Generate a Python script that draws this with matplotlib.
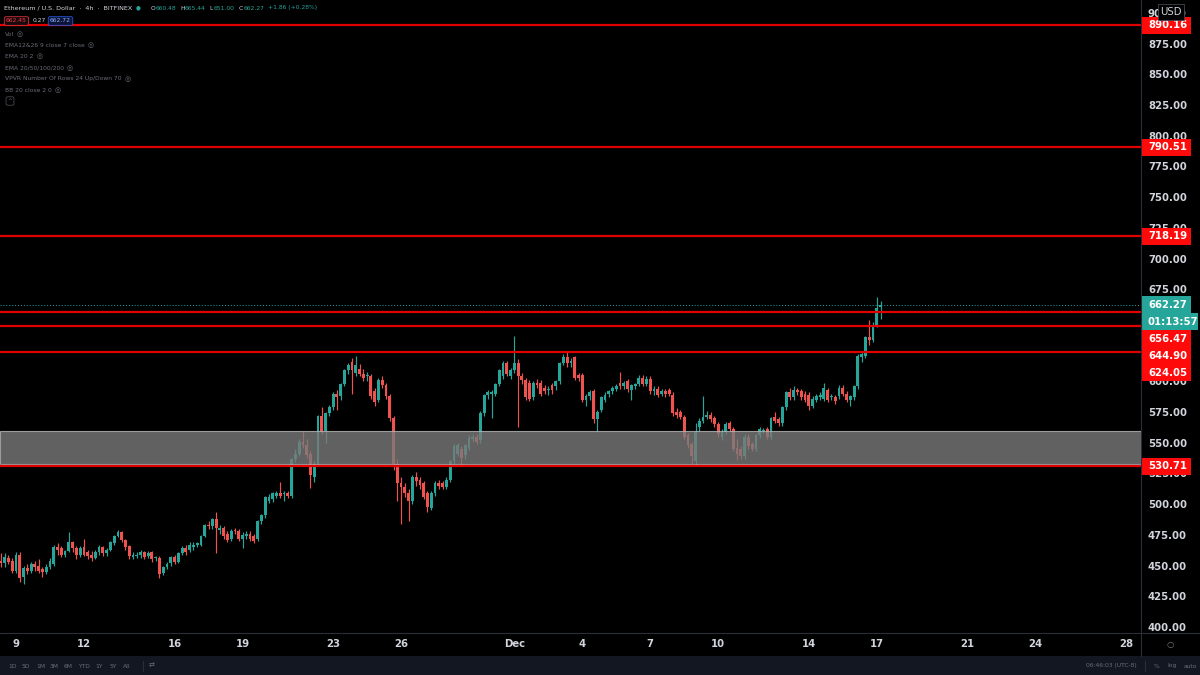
import numpy as np
import pandas as pd
import matplotlib
matplotlib.use("Agg")
import matplotlib.pyplot as plt
import matplotlib.dates as mdates
from matplotlib.patches import Rectangle
from matplotlib.lines import Line2D

# ----------------------------
# 0. Data: ETH/USD 4h candles (Bitfinex)
# ----------------------------
start_time = "2020-11-08 08:00"

opens = [454, 452, 456, 454, 446, 459, 441, 448, 446, 451, 450, 447, 445, 449, 451, 465, 464, 459, 462, 469,
         464, 459, 465, 461, 459, 456, 461, 465, 460, 463, 468, 474, 477, 471, 466, 457, 458, 459, 461, 458,
         461, 456, 456, 444, 449, 452, 457, 453, 460, 464,
         463, 465, 467, 467, 474, 483, 482, 488, 479, 481, 476, 472, 479, 478, 472, 474, 476, 474, 472, 486,
         491, 503, 504, 507, 509, 508, 509, 507, 537, 541, 551, 548, 541, 522, 533, 572, 560, 574, 579, 590,
         588, 598, 609, 616, 607, 610, 606, 604,
         604, 592, 585, 601, 597, 588, 570, 533, 517, 514, 509, 503, 522, 520, 517, 509, 497, 509, 517, 517,
         514, 520, 535, 541, 545, 540, 546, 553, 555, 552, 574, 589, 590, 590, 598, 604, 615, 604, 609, 615,
         604, 601, 599, 587, 599, 599, 595,
         593, 597, 596, 600, 615, 620, 615, 620, 605, 605, 585, 588, 592, 569, 577, 585, 590, 592, 594, 599,
         596, 600, 593, 596, 598, 603, 598, 602, 592, 594, 590, 592, 593, 589, 575, 575, 571, 556, 549, 535,
         563, 568, 571, 573, 570, 565, 555, 559,
         566, 561, 546, 545, 539, 555, 549, 545, 556, 560, 561, 555, 571, 569, 566, 579, 591, 587, 593, 592,
         590, 589, 580, 585, 587, 586, 593, 587, 587, 588, 595, 590, 585, 587, 596, 620, 621, 636, 634, 646,
         660.48]
highs = [460, 460, 459, 456, 461, 461, 450, 451, 453, 454, 455, 449, 451, 456, 467, 468, 466, 463, 477, 470,
         466, 466, 472, 463, 462, 463, 467, 466, 464, 470, 475, 479, 478, 472, 467, 461, 461, 463, 462, 462,
         462, 458, 458, 450, 453, 458, 459, 461, 466, 467,
         469, 469, 469, 475, 484, 486, 489, 494, 483, 482, 478, 480, 481, 480, 477, 478, 478, 476, 487, 492,
         507, 508, 510, 511, 518, 511, 511, 538, 545, 553, 560, 553, 543, 535, 573, 579, 575, 581, 591, 593,
         599, 610, 615, 619, 621, 614, 610, 608,
         606, 595, 603, 604, 599, 590, 572, 537, 522, 517, 512, 524, 526, 522, 519, 511, 511, 519, 520, 519,
         522, 536, 549, 550, 547, 549, 556, 557, 557, 576, 590, 593, 593, 599, 610, 617, 617, 611, 637, 618,
         607, 603, 601, 600, 602, 601, 597,
         596, 599, 601, 616, 622, 625, 619, 621, 607, 607, 590, 593, 594, 577, 588, 591, 593, 596, 598, 608,
         600, 602, 598, 599, 605, 605, 604, 604, 596, 596, 594, 594, 595, 591, 578, 577, 573, 558, 551, 566,
         570, 588, 576, 575, 572, 567, 561, 567,
         568, 563, 553, 547, 557, 557, 551, 557, 563, 562, 563, 571, 575, 571, 580, 592, 595, 596, 595, 594,
         592, 591, 588, 590, 591, 599, 595, 590, 589, 597, 597, 592, 589, 597, 622, 624, 637, 650, 648, 669,
         665.44]
lows = [449, 449, 451, 444, 444, 437, 435, 443, 444, 446, 444, 441, 443, 447, 450, 459, 457, 457, 461, 461,
        455, 457, 458, 455, 454, 455, 459, 458, 458, 462, 467, 473, 469, 463, 455, 455, 456, 456, 455, 456,
        453, 454, 440, 442, 447, 450, 451, 452, 459, 459,
        461, 463, 465, 466, 473, 480, 480, 460, 476, 472, 469, 470, 476, 470, 464, 472, 470, 468, 470, 484,
        489, 501, 502, 505, 505, 503, 505, 505, 534, 539, 546, 538, 513, 518, 532, 557, 550, 572, 577, 577,
        585, 596, 606, 590, 604, 604, 600, 600,
        586, 580, 583, 595, 586, 568, 528, 503, 484, 506, 486, 500, 515, 512, 504, 494, 495, 507, 512, 512,
        512, 518, 533, 539, 531, 537, 544, 551, 549, 550, 572, 586, 570, 588, 596, 602, 604, 602, 607, 563,
        598, 585, 584, 585, 595, 588, 590,
        589, 590, 593, 598, 613, 612, 612, 601, 600, 583, 580, 585, 566, 559, 575, 583, 587, 590, 592, 594,
        594, 591, 585, 594, 596, 596, 596, 590, 589, 587, 588, 587, 588, 572, 570, 569, 553, 546, 533, 532,
        560, 566, 569, 567, 563, 555, 552, 557,
        559, 543, 536, 537, 537, 545, 543, 543, 554, 558, 553, 553, 566, 564, 564, 577, 585, 585, 589, 585,
        583, 577, 578, 583, 585, 584, 583, 585, 582, 586, 588, 583, 580, 585, 594, 616, 619, 630, 632, 644,
        651.00]
closes = [452, 457, 453, 446, 459, 440, 448, 446, 451, 449, 446, 445, 449, 454, 465, 463, 459, 462, 469, 464,
          459, 464, 459, 458, 456, 461, 465, 460, 463, 469, 474, 477, 471, 465, 458, 459, 459, 461, 457, 460,
          455, 456, 443, 449, 451, 457, 453, 460, 464, 461,
          467, 467, 468, 474, 483, 482, 488, 481, 481, 474, 471, 478, 478, 472, 475, 476, 472, 470, 486, 491,
          506, 506, 509, 509, 507, 508, 507, 537, 541, 551, 548, 540, 524, 533, 572, 559, 574, 579, 590, 587,
          598, 609, 613, 609, 613, 606, 603, 605,
          588, 583, 601, 597, 588, 570, 533, 517, 514, 509, 503, 522, 519, 516, 506, 498, 509, 517, 515, 514,
          520, 535, 547, 548, 538, 548, 554, 555, 551, 574, 589, 591, 591, 598, 609, 615, 606, 609, 615, 604,
          601, 587, 586, 599, 597, 590, 592,
          594, 593, 600, 615, 620, 615, 617, 603, 603, 585, 588, 591, 569, 575, 587, 589, 592, 595, 596, 596,
          599, 594, 597, 598, 603, 598, 602, 592, 594, 589, 592, 590, 590, 574, 573, 571, 555, 548, 539, 559,
          568, 571, 573, 569, 565, 557, 559, 565,
          561, 545, 541, 539, 555, 547, 545, 556, 561, 560, 555, 570, 568, 566, 579, 591, 587, 593, 591, 587,
          585, 580, 586, 588, 589, 595, 585, 588, 584, 595, 590, 585, 588, 596, 621, 622, 636, 634, 646, 660,
          662.27]

level_prices = [890.16, 790.51, 718.19, 656.47, 644.90, 624.05, 530.71]
zone_low, zone_high = 532.5, 560.0
last_price = 662.27
countdown = "01:13:57"

price_ticks = list(range(400, 901, 25))
date_ticks = ["2020-11-09", "2020-11-12", "2020-11-16", "2020-11-19", "2020-11-23", "2020-11-26",
              "2020-12-01", "2020-12-04", "2020-12-07", "2020-12-10", "2020-12-14", "2020-12-17",
              "2020-12-21", "2020-12-24", "2020-12-28"]
date_labels = ["9", "12", "16", "19", "23", "26", "Dec", "4", "7", "10", "14", "17", "21", "24", "28"]

title = "Ethereum / U.S. Dollar  ·  4h  ·  BITFINEX"
ohlc_items = [("O", "660.48"), ("H", "665.44"), ("L", "651.00"), ("C", "662.27")]
change_text = "+1.86 (+0.28%)"
indicators = ["Vol", "EMA12&26 9 close 7 close", "EMA 20 2", "EMA 20/50/100/200",
              "VPVR Number Of Rows 24 Up/Down 70", "BB 20 close 2 0"]
ranges = ["1D", "5D", "1M", "3M", "6M", "YTD", "1Y", "5Y", "All"]

# ----------------------------
# 1. Styling / layout
# ----------------------------
UP, DOWN = "#26a69a", "#ef5350"
RED_LINE, RED_TAG, TEAL = "#e00000", "#ff0a0a", "#26a69a"
TXT, DIM, SEP = "#d1d4dc", "#6a6d78", "#2a2e39"

W, H = 1200, 675
AX_R, AX_B, BAR_T = 1141, 633, 656   # price scale x, time scale y, bottom toolbar y (px)
PX_PER_USD = 1.228
Y_TOP = 400 + 627 / PX_PER_USD
Y_BOT = 400 - 6 / PX_PER_USD


def fx(px):
    return px / W


def fy(py):
    return 1 - py / H


fig = plt.figure(figsize=(12, 6.75), dpi=100, facecolor="black")
ax = fig.add_axes([0, fy(AX_B), fx(AX_R), AX_B / H])
ax.set_facecolor("black")

# ----------------------------
# 2. Candles
# ----------------------------
times = pd.date_range(start_time, periods=len(closes), freq="4h")
x = mdates.date2num(times)
o, h, l, c = map(np.array, (opens, highs, lows, closes))
colors = np.where(c >= o, UP, DOWN)
bar_w = 0.75 / 6

ax.vlines(x, l, h, colors=colors, lw=0.85, zorder=2)
ax.bar(x, np.maximum(np.abs(c - o), 0.8), bottom=np.minimum(o, c), width=bar_w,
       color=colors, lw=0, zorder=2)

# support / resistance
ax.axhspan(zone_low, zone_high, facecolor="#7a7a7a", alpha=0.8, edgecolor="#b8b8b8", lw=0.8, zorder=3)
for p in level_prices:
    ax.axhline(p, color=RED_LINE, lw=1.6, zorder=4)
ax.axhline(last_price, color=TEAL, lw=0.7, ls=(0, (1, 2)), zorder=4)

ax.set_xlim(x[0] - 0.24 / 6, x[0] + 302 / 6)
ax.set_ylim(Y_BOT, Y_TOP)
for s in ax.spines.values():
    s.set_visible(False)

ax.set_xticks(mdates.date2num(pd.to_datetime(date_ticks)))
ax.set_xticklabels(date_labels)
ax.tick_params(axis="x", length=0, pad=4.5, labelcolor=TXT, labelsize=7.3)
ax.yaxis.tick_right()
ax.set_yticks(price_ticks)
ax.set_yticklabels([f"{p:.2f}" for p in price_ticks])
ax.tick_params(axis="y", length=0, pad=5, labelcolor=TXT, labelsize=7.3)
for lbl in ax.get_xticklabels() + ax.get_yticklabels():
    lbl.set_fontweight("bold")

# ----------------------------
# 3. Price scale tags
# ----------------------------
ax2 = fig.add_axes([fx(AX_R), fy(AX_B), fx(W - AX_R), AX_B / H])
ax2.set_xlim(0, W - AX_R)
ax2.set_ylim(Y_BOT, Y_TOP)
ax2.axis("off")
ax2.patch.set_visible(False)

tags = [(p, f"{p:.2f}", RED_TAG, 49) for p in level_prices]
tags.append((last_price, f"{last_price:.2f}", TEAL, 49))
tags.append((last_price - 1e-6, countdown, TEAL, 56))
tags.sort(key=lambda t: -t[0])
gap = 17 / PX_PER_USD
prev = np.inf
for p, txt, col, w in tags:
    yc = min(p, prev - gap)
    prev = yc
    ax2.add_patch(Rectangle((0.5, yc - gap / 2), w, gap, facecolor=col, edgecolor="none", zorder=3))
    ax2.text(7, yc, txt, color="white", fontsize=7.3, fontweight="bold", va="center", ha="left", zorder=4)

fig.text(fx(1171), fy(12), "USD", color=TXT, fontsize=7.3, ha="center", va="center",
         bbox=dict(boxstyle="square,pad=0.25", facecolor="black", edgecolor="#434651", lw=0.6))
fig.text(fx(1170), fy(645), "○", color="#787b86", fontsize=6, ha="center", va="center")

# ----------------------------
# 4. Frame: separators and bottom toolbar
# ----------------------------
fig.add_artist(Rectangle((0, 0), 1, fy(BAR_T), transform=fig.transFigure,
                         facecolor="#131722", edgecolor="none"))
fig.add_artist(Line2D([fx(AX_R), fx(AX_R)], [fy(BAR_T), 1], transform=fig.transFigure, color=SEP, lw=0.8))
fig.add_artist(Line2D([0, 1], [fy(AX_B), fy(AX_B)], transform=fig.transFigure, color=SEP, lw=0.8))

rx = 8
for r in ranges:
    t = fig.text(fx(rx), fy(666), r, color=DIM, fontsize=4.3, va="center")
    rx += 14 if len(r) < 3 else 17
fig.add_artist(Line2D([fx(143), fx(143)], [fy(661), fy(671)], transform=fig.transFigure, color=SEP, lw=0.8))
fig.text(fx(152), fy(666), "⇄", color=DIM, fontsize=5, ha="center", va="center")
fig.text(fx(1137), fy(666), "06:46:03 (UTC-8)", color=DIM, fontsize=4.3, ha="right", va="center")
fig.add_artist(Line2D([fx(1145), fx(1145)], [fy(661), fy(671)], transform=fig.transFigure, color=SEP, lw=0.8))
fig.text(fx(1156), fy(666), "%", color=DIM, fontsize=4.3, ha="center", va="center")
fig.text(fx(1172), fy(666), "log", color=DIM, fontsize=4.3, ha="center", va="center")
fig.text(fx(1190), fy(666), "auto", color=DIM, fontsize=4.3, ha="center", va="center")

# ----------------------------
# 5. Header / legend
# ----------------------------
renderer = fig.canvas.get_renderer()
fig.text(fx(4), fy(8), title, color=TXT, fontsize=4.6, va="center")
fig.text(fx(138), fy(8), "●", color=TEAL, fontsize=4, ha="center", va="center")
hx = 151
for letter, val in ohlc_items:
    t1 = fig.text(fx(hx), fy(8), letter, color=TXT, fontsize=4.3, va="center")
    t2 = fig.text(fx(hx + 4.5), fy(8), val, color=TEAL, fontsize=4.3, va="center")
    hx = t2.get_window_extent(renderer).x1 + 4
fig.text(fx(hx), fy(8), change_text, color=TEAL, fontsize=4.3, va="center")

fig.text(fx(6), fy(21), "662.45", color="#f23645", fontsize=4.3, va="center",
         bbox=dict(boxstyle="round,pad=0.3", facecolor="#1a0a0c", edgecolor="#f23645", lw=0.5))
fig.text(fx(33), fy(21), "0.27", color=TXT, fontsize=4.3, va="center")
fig.text(fx(50), fy(21), "662.72", color="#90aaff", fontsize=4.3, va="center",
         bbox=dict(boxstyle="round,pad=0.3", facecolor="#0b1537", edgecolor="#2962ff", lw=0.5))

for i, name in enumerate(indicators):
    yy = 34 + i * 11.2
    t = fig.text(fx(5), fy(yy), name, color=DIM, fontsize=4.3, va="center")
    ex = t.get_window_extent(renderer).x1 + 6
    fig.text(fx(ex), fy(yy), "◎", color=DIM, fontsize=5, va="center", ha="center")
fig.text(fx(10), fy(101), "^", color=DIM, fontsize=4, ha="center", va="center",
         bbox=dict(boxstyle="round,pad=0.3", facecolor="black", edgecolor=DIM, lw=0.4))

fig.savefig("out.png", dpi=100, facecolor="black")
